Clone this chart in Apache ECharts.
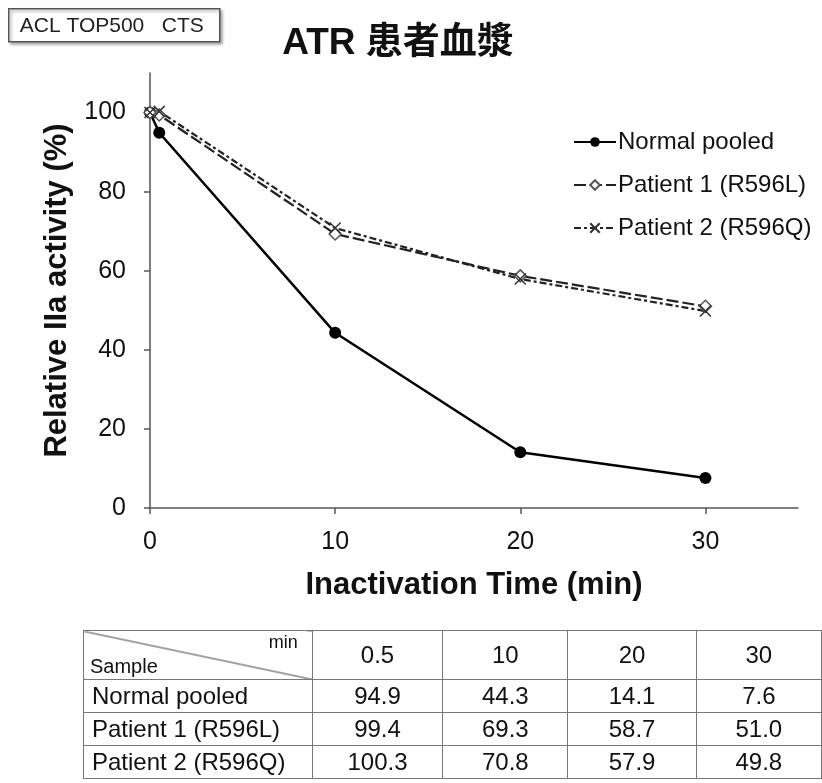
<!DOCTYPE html>
<html>
<head>
<meta charset="utf-8">
<script src="https://cdn.jsdelivr.net/npm/echarts@6/dist/echarts.min.js"></script>
<style>
	html, body { margin: 0; padding: 0; background: #fff; }
	#wrap { position: relative; width: 822px; height: 783px; }
	#main { position: absolute; left: 0; top: 0; width: 822px; height: 783px; }
	#tbl {
		position: absolute; left: 83px; top: 630px;
		border-collapse: collapse;
		font-family: "Liberation Sans", Arial, sans-serif;
		font-size: 24px; color: #111;
	}
	#tbl td { border: 1.5px solid #777; text-align: center; padding: 0; height: 32px; }
	#tbl td.name { text-align: left; padding-left: 8px; }
	#tbl tr.head td { height: 48px; }
	#tbl td.corner {
		position: relative;
		background: linear-gradient(to top right, transparent calc(50% - 1px), #444 50%, transparent calc(50% + 1px));
	}
	#tbl td.corner .min { position: absolute; right: 14px; top: 1px; font-size: 18px; }
	#tbl td.corner .smp { position: absolute; left: 6px; bottom: 1px; font-size: 20px; }
</style>
</head>
<body>
<div id="wrap">
	<div id="main"></div>
	<table id="tbl"></table>
</div>
<script>
	// time points (min)
	var times = [0, 0.5, 10, 20, 30]
	var seriesNames = ['Normal pooled', 'Patient 1 (R596L)', 'Patient 2 (R596Q)']
	var normalPooled = [100, 94.9, 44.3, 14.1, 7.6]
	var patient1 = [100, 99.4, 69.3, 58.7, 51.0]
	var patient2 = [100, 100.3, 70.8, 57.9, 49.8]
	var xTicks = [0, 10, 20, 30]
	var yTicks = [0, 20, 40, 60, 80, 100]
	// table columns (the 0 min point is not listed)
	var tableTimes = ['0.5', '10', '20', '30']

	function pairs(vals) {
		var out = []
		for (var i = 0; i < times.length; i++) {
			out.push([times[i], vals[i]])
		}
		return out
	}

	// table under the chart
	var tbl = document.getElementById('tbl')
	var colW = [229, 130, 125, 128, 125]
	var html = '<tr class="head"><td class="corner" style="width:' + colW[0] + 'px"><span class="min">min</span><span class="smp">Sample</span></td>'
	for (var c = 0; c < tableTimes.length; c++) {
		html += '<td style="width:' + colW[c + 1] + 'px">' + tableTimes[c] + '</td>'
	}
	html += '</tr>'
	var rows = [normalPooled, patient1, patient2]
	for (var r = 0; r < rows.length; r++) {
		html += '<tr><td class="name">' + seriesNames[r] + '</td>'
		for (var k = 1; k < rows[r].length; k++) {
			html += '<td>' + rows[r][k].toFixed(1) + '</td>'
		}
		html += '</tr>'
	}
	tbl.innerHTML = html

	var font = '"Liberation Sans", Arial, sans-serif'
	var chart = echarts.init(document.getElementById('main'))
	var option = {
		animation: false,
		textStyle: { fontFamily: font },
		title: {
			text: 'ATR 患者血漿',
			left: 393,
			textAlign: 'center',
			top: 20,
			textStyle: { fontSize: 37, fontWeight: 'bold', color: '#111', fontFamily: font + ', "Noto Sans CJK JP"' }
		},
		graphic: [{
			type: 'group',
			left: 8,
			top: 8,
			children: [{
				type: 'rect',
				shape: { x: 0, y: 0, width: 211, height: 33 },
				style: { fill: '#fff', stroke: '#555', lineWidth: 1.5, shadowBlur: 3, shadowOffsetX: 2, shadowOffsetY: 2, shadowColor: 'rgba(0,0,0,0.35)' }
			}, {
				type: 'text',
				x: 11,
				y: 7,
				style: { text: 'ACL TOP500   CTS', fontSize: 21, fill: '#222', fontFamily: font }
			}]
		}],
		legend: {
			orient: 'vertical',
			left: 568,
			top: 125,
			itemWidth: 42,
			itemHeight: 12,
			itemGap: 19,
			textStyle: { fontSize: 24, color: '#111', padding: [0, 0, 0, -3] },
			data: seriesNames
		},
		grid: {
			left: 150,
			right: 24,
			top: 73,
			bottom: 275
		},
		xAxis: {
			type: 'value',
			min: 0,
			max: 35,
			interval: 10,
			name: 'Inactivation Time (min)',
			nameLocation: 'middle',
			nameGap: 62,
			nameTextStyle: { fontSize: 31, fontWeight: 'bold', color: '#111' },
			axisLine: { lineStyle: { color: '#555', width: 1.5 } },
			axisTick: { show: true, length: 6, customValues: xTicks, lineStyle: { color: '#555', width: 1.5 } },
			axisLabel: { customValues: xTicks, fontSize: 25, color: '#111', margin: 22 },
			splitLine: { show: false }
		},
		yAxis: {
			type: 'value',
			min: 0,
			max: 110,
			interval: 20,
			name: 'Relative IIa activity (%)',
			nameLocation: 'middle',
			nameGap: 71,
			nameTextStyle: { fontSize: 31, fontWeight: 'bold', color: '#111' },
			axisLine: { show: true, lineStyle: { color: '#555', width: 1.5 } },
			axisTick: { show: true, length: 6, customValues: yTicks, lineStyle: { color: '#555', width: 1.5 } },
			axisLabel: { customValues: yTicks, fontSize: 25, color: '#111', margin: 24 },
			splitLine: { show: false }
		},
		series: [{
			name: seriesNames[0],
			type: 'line',
			data: pairs(normalPooled),
			symbol: 'circle',
			symbolSize: 12,
			z: 3,
			itemStyle: { color: '#000' },
			lineStyle: { color: '#000', width: 2.5 }
		}, {
			name: seriesNames[1],
			type: 'line',
			data: pairs(patient1),
			symbol: 'diamond',
			symbolSize: 12,
			itemStyle: { color: '#fff', borderColor: '#555', borderWidth: 1.5 },
			lineStyle: { color: '#222', width: 2.2, type: [12, 4] }
		}, {
			name: seriesNames[2],
			type: 'line',
			data: pairs(patient2),
			symbol: 'path://M0,0L10,10M10,0L0,10',
			symbolSize: 11,
			itemStyle: { color: 'transparent', borderColor: '#333', borderWidth: 1.5 },
			lineStyle: { color: '#222', width: 2.2, type: [7, 3, 3, 3] }
		}]
	}
	chart.setOption(option)
</script>
</body>
</html>
